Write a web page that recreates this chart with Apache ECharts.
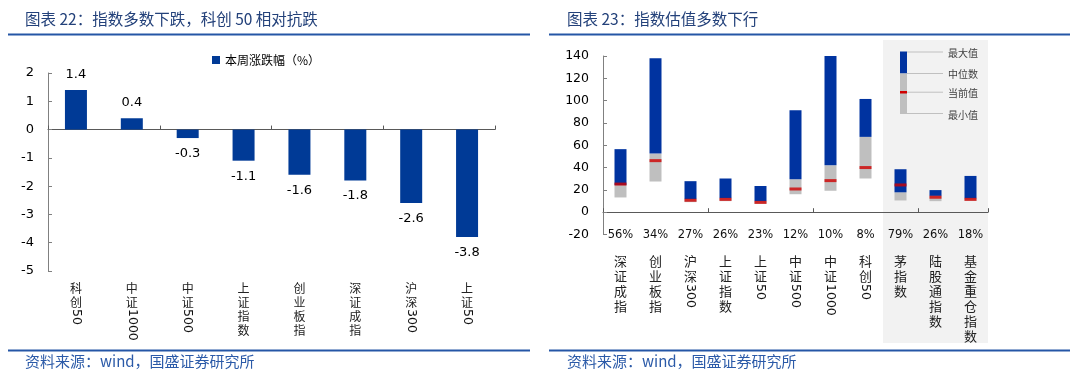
<!DOCTYPE html>
<html><head><meta charset="utf-8">
<script src="https://cdn.jsdelivr.net/npm/echarts@6/dist/echarts.min.js"></script>
<style>html,body{margin:0;padding:0;background:#fff}#c{width:1080px;height:382px}</style>
</head><body><div id="c"></div>
<script>
// ---- Left chart data ----
const leftCategories = ['科创50','中证1000','中证500','上证指数','创业板指','深证成指','沪深300','上证50'];
const leftValues = [1.4, 0.4, -0.3, -1.1, -1.6, -1.8, -2.6, -3.8];
const leftSeriesName = '本周涨跌幅（%）';
const leftYMin = -5, leftYMax = 2, leftYInterval = 1;

// ---- Right chart data ----
const rightCategories = ['深证成指','创业板指','沪深300','上证指数','上证50','中证500','中证1000','科创50','茅指数','陆股通指数','基金重仓指数'];
const rightPercentiles = ['56%','34%','27%','26%','23%','12%','10%','8%','79%','26%','18%'];
const rightMin     = [13.2, 27.5,  9.0,  9.9,  7.5, 16.1,  19.2,  30.2, 10.5,  9.9, 10.2];
const rightMedian  = [24.3, 52.5, 11.8, 12.6,  9.9, 29.5,  42.0,  67.5, 17.8, 14.6, 12.4];
const rightMax     = [56.5, 138.0, 27.8, 30.2, 23.5, 91.3, 140.0, 101.5, 38.5, 19.8, 32.5];
const rightCurrent = [25.2, 46.2, 10.7, 11.5,  8.8, 20.8,  28.3,  40.0, 24.4, 13.4, 11.5];
const rightYMin = -20, rightYMax = 140, rightYInterval = 20;
const legendLabels = ['最大值','中位数','当前值','最小值'];

const NUM = 'DejaVu Sans';
const CJK = 'Noto Sans CJK SC';
const BLUE_BAR = '#003A96';
const BLUE_BOX = '#0033A0';
const GRAY_BOX = '#BFBFBF';
const RED = '#D00000';

function charsPart(s){ const m = s.match(/^(\D*)(\d*)$/); return m[1]; }
function digitsPart(s){ const m = s.match(/^(\D*)(\d*)$/); return m[2]; }

function zeroAxis(grid, data){
  return {gridIndex:grid, type:'category', data:data, position:'bottom',
    axisLine:{show:true,onZero:true,lineStyle:{color:'#595959',width:1}},
    axisTick:{show:true,inside:true,length:4,lineStyle:{color:'#595959'}},
    axisLabel:{show:false}, splitLine:{show:false}};
}
function labelAxis(grid, data, cfg){
  return {gridIndex:grid, type:'category', data:data, position:'bottom',
    axisLine:{show:false,onZero:false}, axisTick:{show:false}, splitLine:{show:false},
    axisLabel:Object.assign({show:true, interval:0}, cfg)};
}

const chart = echarts.init(document.getElementById('c'), null, {renderer:'canvas'});

const option = {
  animation:false,
  backgroundColor:'#fff',
  title:[
    {text:'图表 22：指数多数下跌，科创 50 相对抗跌', left:20, top:6,
     textStyle:{fontSize:15.5,fontWeight:'normal',color:'#23417a',fontFamily:CJK}},
    {text:'图表 23：指数估值多数下行', left:562, top:6,
     textStyle:{fontSize:15.5,fontWeight:'normal',color:'#23417a',fontFamily:CJK}},
    {text:'资料来源：wind，国盛证券研究所', left:20, top:349,
     textStyle:{fontSize:15,fontWeight:'normal',color:'#2b5aa8',fontFamily:CJK}},
    {text:'资料来源：wind，国盛证券研究所', left:562, top:349,
     textStyle:{fontSize:15,fontWeight:'normal',color:'#2b5aa8',fontFamily:CJK}}
  ],
  legend:{data:[leftSeriesName], left:207, top:49, icon:'rect', itemWidth:8, itemHeight:8, itemGap:6,
    textStyle:{fontSize:12,color:'#000',fontFamily:CJK}},
  grid:[
    {left:48, right:585, top:73, bottom:111, outerBoundsMode:'none'},
    {left:603, right:92, top:56, bottom:147.5, outerBoundsMode:'none'}
  ],
  xAxis:[
    zeroAxis(0, leftCategories),
    labelAxis(0, leftCategories, {margin:10, formatter:v=>charsPart(v).split('').join('\n'),
      fontSize:12, lineHeight:14, color:'#222', fontFamily:CJK}),
    labelAxis(0, leftCategories, {margin:38, rotate:-90, align:'left', verticalAlign:'middle',
      formatter:v=>digitsPart(v), fontSize:12.5, color:'#111', fontFamily:NUM}),
    zeroAxis(1, rightCategories),
    labelAxis(1, rightPercentiles, {margin:1, verticalAlign:'middle', fontSize:11.5, color:'#111', fontFamily:NUM}),
    labelAxis(1, rightCategories, {margin:19.5, formatter:v=>charsPart(v).split('').join('\n'),
      fontSize:13, lineHeight:15, color:'#222', fontFamily:CJK}),
    labelAxis(1, rightCategories, {margin:49.5, rotate:-90, align:'left', verticalAlign:'middle',
      formatter:v=>digitsPart(v), fontSize:12.5, color:'#111', fontFamily:NUM})
  ],
  yAxis:[
    {gridIndex:0, type:'value', min:leftYMin, max:leftYMax, interval:leftYInterval,
     axisLine:{show:true,lineStyle:{color:'#808080'}},
     axisTick:{show:true,inside:true,length:4,lineStyle:{color:'#808080'}},
     splitLine:{show:false},
     axisLabel:{margin:14,fontSize:13,color:'#000',fontFamily:NUM}},
    {gridIndex:1, type:'value', min:rightYMin, max:rightYMax, interval:rightYInterval,
     axisLine:{show:true,lineStyle:{color:'#808080'}},
     axisTick:{show:true,inside:true,length:4,lineStyle:{color:'#808080'}},
     splitLine:{show:false},
     axisLabel:{margin:14,fontSize:12.5,color:'#000',fontFamily:NUM}}
  ],
  graphic:[
    {type:'rect', z:-10, shape:{x:883,y:40,width:105,height:303}, style:{fill:'#f2f2f2'}},
    {type:'rect', shape:{x:8,y:33.5,width:522,height:2}, style:{fill:'#2556a6'}},
    {type:'rect', shape:{x:549,y:33.5,width:521,height:2}, style:{fill:'#2556a6'}},
    {type:'rect', shape:{x:8,y:349.5,width:522,height:2}, style:{fill:'#2556a6'}},
    {type:'rect', shape:{x:549,y:349.5,width:521,height:2}, style:{fill:'#2556a6'}},
    // mini legend
    {type:'rect', shape:{x:900,y:51.5,width:7,height:22}, style:{fill:BLUE_BOX}},
    {type:'rect', shape:{x:900,y:73.5,width:7,height:40.5}, style:{fill:GRAY_BOX}},
    {type:'rect', shape:{x:900,y:91,width:7,height:2.5}, style:{fill:RED}},
    {type:'line', shape:{x1:907,y1:52,x2:943,y2:52}, style:{stroke:'#c0c0c0',lineWidth:1}},
    {type:'line', shape:{x1:907,y1:73.5,x2:943,y2:73.5}, style:{stroke:'#c0c0c0',lineWidth:1}},
    {type:'line', shape:{x1:907,y1:92.2,x2:943,y2:92.2}, style:{stroke:'#c0c0c0',lineWidth:1}},
    {type:'line', shape:{x1:907,y1:113.5,x2:943,y2:113.5}, style:{stroke:'#c0c0c0',lineWidth:1}},
    {type:'text', style:{x:948,y:53,text:legendLabels[0],fontSize:10,fill:'#404040',fontFamily:CJK,verticalAlign:'middle'}},
    {type:'text', style:{x:948,y:74,text:legendLabels[1],fontSize:10,fill:'#404040',fontFamily:CJK,verticalAlign:'middle'}},
    {type:'text', style:{x:948,y:93,text:legendLabels[2],fontSize:10,fill:'#404040',fontFamily:CJK,verticalAlign:'middle'}},
    {type:'text', style:{x:948,y:115,text:legendLabels[3],fontSize:10,fill:'#404040',fontFamily:CJK,verticalAlign:'middle'}}
  ],
  series:[
    {name:leftSeriesName, type:'bar', xAxisIndex:0, yAxisIndex:0, barWidth:22,
     itemStyle:{color:BLUE_BAR},
     data:leftValues.map(v=>({value:v,label:{position:v>=0?'top':'bottom'}})),
     label:{show:true, distance:9, fontSize:13, color:'#000', fontFamily:NUM,
       formatter:p=>p.value.toFixed(1)}},
    {name:'min', type:'bar', xAxisIndex:3, yAxisIndex:1, stack:'box', barWidth:12, silent:true,
     itemStyle:{color:'rgba(0,0,0,0)'}, data:rightMin},
    {name:'median', type:'bar', xAxisIndex:3, yAxisIndex:1, stack:'box', barWidth:12,
     itemStyle:{color:GRAY_BOX}, data:rightMedian.map((m,i)=>+(m-rightMin[i]).toFixed(2))},
    {name:'max', type:'bar', xAxisIndex:3, yAxisIndex:1, stack:'box', barWidth:12,
     itemStyle:{color:BLUE_BOX}, data:rightMax.map((m,i)=>+(m-rightMedian[i]).toFixed(2))},
    {name:'current', type:'scatter', xAxisIndex:3, yAxisIndex:1, symbol:'rect', symbolSize:[12,3], z:5,
     itemStyle:{color:RED}, data:rightCurrent}
  ]
};
chart.setOption(option);
</script></body></html>
